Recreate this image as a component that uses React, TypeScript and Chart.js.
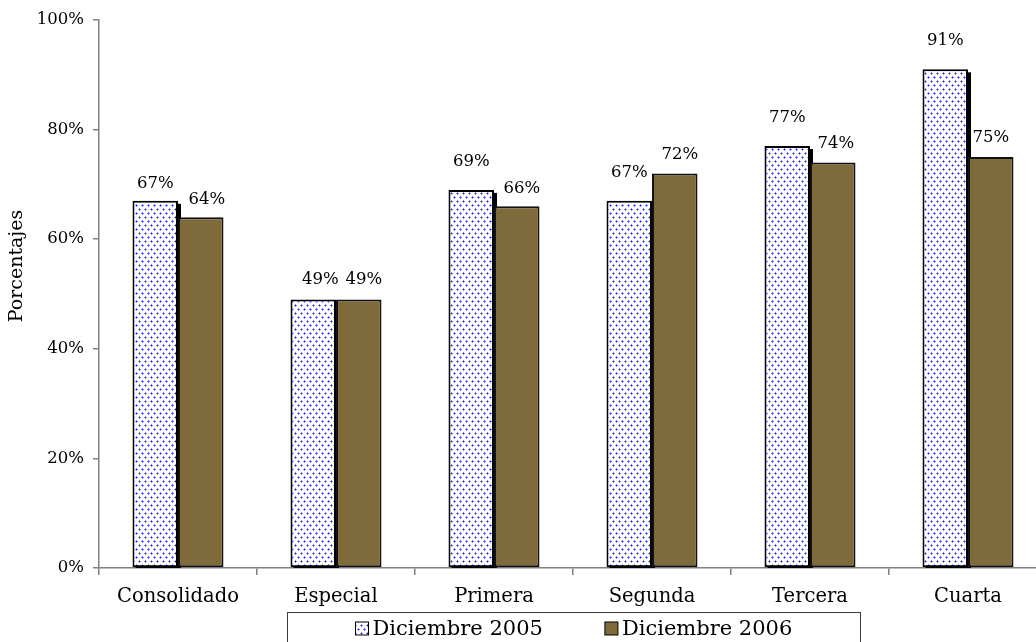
import React, { useEffect, useRef } from "react";
import { Chart, registerables } from "chart.js";

Chart.register(...registerables);

const categories = ["Consolidado", "Especial", "Primera", "Segunda", "Tercera", "Cuarta"];
const dic2005 = [67, 49, 69, 67, 77, 91];
const dic2006 = [64, 49, 66, 72, 74, 75];
const seriesLabels = ["Diciembre 2005", "Diciembre 2006"];
const yTickValues = [0, 20, 40, 60, 80, 100];
const yTitle = "Porcentajes";

// label nudges (style only)
const labelLift = [
  [17, 20, 28, 28, 28, 29],
  [18, 20, 18, 19, 19, 19],
];
const labelDx = [
  [0, 7, 0, 0, 0, 0],
  [6, 5, 5, 5, 3, 0],
];

const FONT = '"DejaVu Serif", serif';
const BROWN = "#7f6a3c";

function makeDotPattern(ctx: CanvasRenderingContext2D): CanvasPattern | string {
  const c = document.createElement("canvas");
  c.width = 6;
  c.height = 8;
  const p = c.getContext("2d");
  if (!p) return "#fff";
  p.fillStyle = "#ffffff";
  p.fillRect(0, 0, 6, 8);
  const dot = (x: number, y: number) => {
    p.fillStyle = "#8a8aff";
    p.fillRect(x - 1, y, 1, 1);
    p.fillRect(x + 1, y, 1, 1);
    p.fillRect(x, y - 1, 1, 1);
    p.fillRect(x, y + 1, 1, 1);
    p.fillStyle = "#1e1eff";
    p.fillRect(x, y, 1, 1);
  };
  dot(1, 1);
  dot(4, 5);
  return ctx.createPattern(c, "repeat") || "#fff";
}

export default function App() {
  const ref = useRef<HTMLCanvasElement | null>(null);

  useEffect(() => {
    document.body.style.margin = "0";
    document.body.style.overflow = "hidden";
    const canvas = ref.current;
    if (!canvas) return;
    const ctx0 = canvas.getContext("2d")!;
    const dots = makeDotPattern(ctx0);
    const fills = [dots, BROWN];

    const shadowPlugin = {
      id: "barShadow",
      beforeDatasetsDraw(chart: any) {
        const c = chart.ctx;
        const a = chart.chartArea;
        c.save();
        c.beginPath();
        c.rect(a.left, a.top - 10, a.right - a.left, a.bottom - a.top + 10);
        c.clip();
        c.fillStyle = "#000";
        const meta = chart.getDatasetMeta(0);
        meta.data.forEach((el: any) => {
          const p = el.getProps(["x", "y", "base", "width"], true);
          const left = p.x - p.width / 2;
          c.fillRect(left + 3, p.y + 3, p.width, p.base - p.y);
        });
        c.restore();
      },
    };

    const labelPlugin = {
      id: "barLabels",
      afterDatasetsDraw(chart: any) {
        const c = chart.ctx;
        c.save();
        c.font = `16.5px ${FONT}`;
        c.fillStyle = "#000";
        c.textAlign = "center";
        c.textBaseline = "middle";
        chart.data.datasets.forEach((ds: any, di: number) => {
          const meta = chart.getDatasetMeta(di);
          meta.data.forEach((el: any, i: number) => {
            c.fillText(`${ds.data[i]}%`, el.x + labelDx[di][i], el.y - labelLift[di][i]);
          });
        });
        c.restore();
      },
    };

    const decoPlugin = {
      id: "deco",
      afterDraw(chart: any) {
        const c = chart.ctx;
        const a = chart.chartArea;
        c.save();
        // y title
        c.font = `19px ${FONT}`;
        c.fillStyle = "#000";
        c.textAlign = "center";
        c.textBaseline = "middle";
        c.translate(17, (a.top + a.bottom) / 2 - 28);
        c.rotate(-Math.PI / 2);
        c.fillText(yTitle, 0, 0);
        c.restore();

        // legend
        c.save();
        c.font = `21px ${FONT}`;
        const box = 13;
        const gap = 4;
        const itemGap = 62;
        const padX = 68;
        const widths = seriesLabels.map((t) => box + gap + c.measureText(t).width);
        const total = widths.reduce((s, w) => s + w, 0) + itemGap * (widths.length - 1);
        const boxW = total + padX * 2;
        const cx = (a.left + a.right) / 2;
        const top = a.bottom + 44.5;
        const left = Math.round(cx - boxW / 2) + 0.5;
        c.strokeStyle = "#3a3a3a";
        c.lineWidth = 1;
        c.strokeRect(left, top, Math.round(boxW), 40);
        let x = left + padX;
        const cy = top + 16;
        seriesLabels.forEach((t, i) => {
          c.fillStyle = fills[i] as any;
          c.fillRect(x, cy - box / 2, box, box);
          c.strokeStyle = "#000";
          c.strokeRect(x, cy - box / 2, box, box);
          c.fillStyle = "#000";
          c.textAlign = "left";
          c.textBaseline = "middle";
          c.fillText(t, x + box + gap, cy + 1);
          x += widths[i] + itemGap;
        });
        c.restore();
      },
    };

    const chart = new Chart(canvas, {
      type: "bar",
      data: {
        labels: categories,
        datasets: [
          {
            label: seriesLabels[0],
            data: dic2005,
            backgroundColor: dots as any,
            borderColor: "#000",
            borderWidth: 2,
            borderSkipped: false,
          },
          {
            label: seriesLabels[1],
            data: dic2006,
            backgroundColor: BROWN,
            borderColor: "#111",
            borderWidth: 2,
            borderSkipped: false,
          },
        ],
      },
      options: {
        responsive: false,
        animation: false,
        datasets: {
          bar: { categoryPercentage: 0.576, barPercentage: 1 },
        },
        layout: { padding: { left: 6, top: 20, right: 13, bottom: 52 } },
        plugins: {
          legend: { display: false },
          tooltip: { enabled: false },
        },
        scales: {
          x: {
            offset: true,
            grid: {
              offset: true,
              drawOnChartArea: false,
              drawTicks: true,
              tickLength: 7,
              color: "#808080",
              lineWidth: 1.5,
            },
            border: { display: true, color: "#808080", width: 1.5 },
            ticks: {
              color: "#000",
              font: { family: FONT, size: 19.5 },
              padding: 10,
              maxRotation: 0,
            },
            afterFit(scale: any) {
              scale.height = 40;
            },
          },
          y: {
            min: 0,
            max: 100,
            afterBuildTicks(scale: any) {
              scale.ticks = yTickValues.map((v) => ({ value: v }));
            },
            grid: {
              drawOnChartArea: false,
              drawTicks: true,
              tickLength: 6,
              color: "#808080",
              lineWidth: 1.5,
            },
            border: { display: true, color: "#808080", width: 1.5 },
            ticks: {
              color: "#000",
              font: { family: FONT, size: 16.5 },
              padding: 9,
              callback: (v: any) => `${v}%`,
            },
            afterFit(scale: any) {
              scale.width = 93;
            },
          },
        },
      },
      plugins: [shadowPlugin, labelPlugin, decoPlugin],
    });

    return () => chart.destroy();
  }, []);

  return (
    <div style={{ width: 1036, height: 642, overflow: "hidden", position: "relative" }}>
      <canvas ref={ref} width={1060} height={660} style={{ display: "block" }} />
    </div>
  );
}
